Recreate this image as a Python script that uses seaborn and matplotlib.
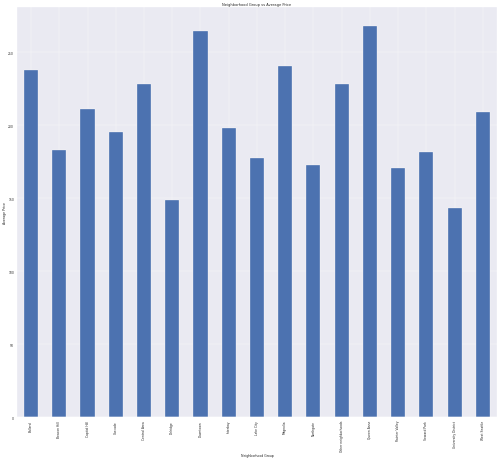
import matplotlib
matplotlib.use("Agg")
import matplotlib.pyplot as plt
import seaborn as sns
import pandas as pd

# average listing price per neighbourhood group
neighbourhoods = [
    "Ballard", "Beacon Hill", "Capitol Hill", "Cascade", "Central Area",
    "Delridge", "Downtown", "Interbay", "Lake City", "Magnolia",
    "Northgate", "Other neighborhoods", "Queen Anne", "Rainier Valley",
    "Seward Park", "University District", "West Seattle",
]
avg_price = [
    238.1, 183.3, 211.0, 195.6, 228.3,
    148.8, 264.4, 197.9, 177.8, 240.8,
    173.0, 228.3, 267.8, 171.0,
    181.5, 143.4, 208.9,
]

df = pd.DataFrame({"Neighborhood Group": neighbourhoods, "Average Price": avg_price})

sns.set_theme(style="darkgrid")
plt.rcParams["font.family"] = ["DejaVu Sans"]

# big canvas at low dpi, like a notebook figure shrunk down
fig, ax = plt.subplots(figsize=(23, 21.43), dpi=21.65)
fig.subplots_adjust(left=0.034, right=0.998, top=0.983, bottom=0.099)

sns.barplot(data=df, x="Neighborhood Group", y="Average Price", color="#4C72B0",
            width=0.5, edgecolor="white", linewidth=1.0, saturation=1, ax=ax)

ax.set_xlim(-0.5, len(neighbourhoods) - 0.5)
ax.set_ylim(0, max(avg_price) * 1.05)
ax.xaxis.grid(True)  # barplot switches this off, the original has it
ax.set_axisbelow(True)
ax.set_title("Neighborhood Group vs Average Price", fontsize=12)
ax.set_xlabel("Neighborhood Group", fontsize=11)
ax.set_ylabel("Average Price", fontsize=11)
ax.tick_params(axis="x", labelrotation=90, labelsize=10)
ax.tick_params(axis="y", labelsize=10)

fig.savefig("out.png", dpi=21.65)
